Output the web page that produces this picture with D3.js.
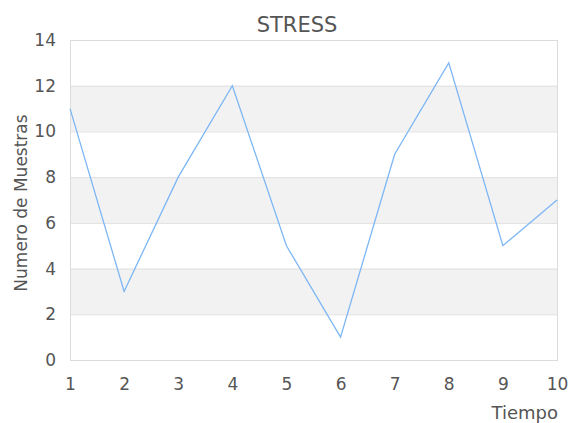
<!DOCTYPE html>
<html><head><meta charset="utf-8">
<script src="https://cdn.jsdelivr.net/npm/d3@7"></script>
<style>body{margin:0;background:#fff;} text{font-family:"DejaVu Sans",sans-serif;}</style>
</head><body>
<svg id="c" width="571" height="423"></svg>
<script>
const categories = [1,2,3,4,5,6,7,8,9,10];
const values = [11,3,8,12,5,1,9,13,5,7];
const yTicks = [0,2,4,6,8,10,12,14];
const title = "STRESS";
const xTitle = "Tiempo";
const yTitle = "Numero de Muestras";

const svg = d3.select("#c");
const L=70, R=557, T=40, B=360;
const x = d3.scaleLinear().domain([1,10]).range([L,R]);
const y = d3.scaleLinear().domain([0,14]).range([B,T]);

// bands
const bands = [[2,4],[6,8],[10,12]];
svg.selectAll("rect.band").data(bands).enter().append("rect")
  .attr("x",L).attr("width",R-L)
  .attr("y",d=>y(d[1])).attr("height",d=>y(d[0])-y(d[1]))
  .attr("fill","#f2f2f2");
// grid
svg.selectAll("line.grid").data(yTicks).enter().append("line")
  .attr("x1",L).attr("x2",R).attr("y1",d=>y(d)+0.5).attr("y2",d=>y(d)+0.5)
  .attr("stroke","#e0e0e0");
// border
svg.append("rect").attr("x",L+0.5).attr("y",T+0.5).attr("width",R-L).attr("height",B-T)
  .attr("fill","none").attr("stroke","#dcdcdc");

// axes labels
const yAxis = d3.axisLeft(y).tickValues(yTicks).tickSize(0).tickPadding(14);
const gy = svg.append("g").attr("transform",`translate(${L},0)`).call(yAxis);
gy.select(".domain").remove();
gy.selectAll("text").attr("font-size",17).attr("fill","#555").attr("font-family","DejaVu Sans");

const xAxis = d3.axisBottom(x).tickValues(categories).tickFormat(d3.format("d")).tickSize(0).tickPadding(18);
const gx = svg.append("g").attr("transform",`translate(0,${B})`).call(xAxis);
gx.select(".domain").remove();
gx.selectAll("text").attr("font-size",17).attr("fill","#555").attr("font-family","DejaVu Sans");

// line
const line = d3.line().x((d,i)=>x(categories[i])).y(d=>y(d));
svg.append("path").datum(values).attr("d",line).attr("fill","none")
  .attr("stroke","#7db6f5").attr("stroke-width",1.3);

svg.append("text").attr("x",297).attr("y",32).attr("text-anchor","middle")
  .attr("font-size",21).attr("fill","#555").text(title);
svg.append("text").attr("x",558).attr("y",419).attr("text-anchor","end")
  .attr("font-size",18).attr("fill","#555").text(xTitle);
svg.append("text").attr("transform","translate(27,203) rotate(-90)").attr("text-anchor","middle")
  .attr("font-size",17).attr("fill","#555").text(yTitle);
</script>
</body></html>
